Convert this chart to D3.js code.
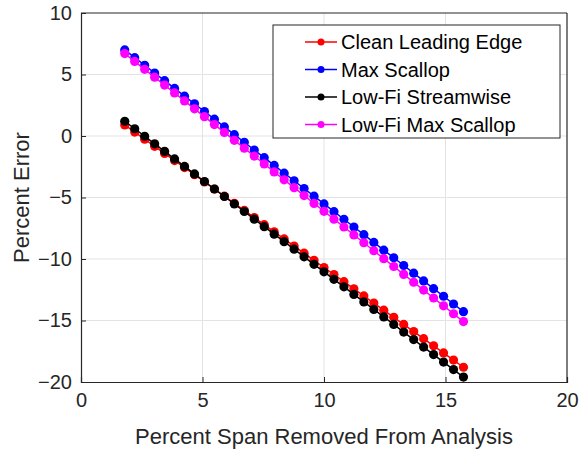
<!DOCTYPE html>
<html lang="en">
<head>
    <meta charset="UTF-8">
    <title>Percent Error vs Span Removed</title>
    <style>
        body { margin: 0; background: #fff; }
        svg { display: block; font-family: 'Liberation Sans', Arial, sans-serif; }
    </style>
</head>
<body>
    <svg id="chart" width="582" height="453"></svg>
    <script src="https://d3js.org/d3.v7.min.js"></script>
    <script>
        // Data
        const spanRemoved = [1.80, 2.21, 2.62, 3.03, 3.44, 3.85, 4.26, 4.67, 5.08, 5.49, 5.90, 6.31, 6.72, 7.13, 7.54, 7.95, 8.36, 8.77, 9.18, 9.59, 10.00, 10.41, 10.82, 11.23, 11.64, 12.05, 12.46, 12.87, 13.28, 13.69, 14.10, 14.51, 14.92, 15.33, 15.74];
        const cleanLeadingEdge = [0.90, 0.32, -0.26, -0.84, -1.42, -2.00, -2.57, -3.15, -3.73, -4.31, -4.89, -5.47, -6.05, -6.63, -7.21, -7.79, -8.37, -8.95, -9.53, -10.11, -10.69, -11.26, -11.84, -12.42, -13.00, -13.58, -14.16, -14.74, -15.32, -15.90, -16.48, -17.06, -17.64, -18.22, -18.80];
        const maxScallop = [7.00, 6.37, 5.75, 5.12, 4.50, 3.87, 3.24, 2.62, 1.99, 1.37, 0.74, 0.11, -0.51, -1.14, -1.76, -2.39, -3.02, -3.64, -4.27, -4.89, -5.52, -6.15, -6.77, -7.40, -8.02, -8.65, -9.28, -9.90, -10.53, -11.15, -11.78, -12.41, -13.03, -13.66, -14.28];
        const lowFiStreamwise = [1.20, 0.59, -0.02, -0.64, -1.25, -1.86, -2.47, -3.08, -3.70, -4.31, -4.92, -5.53, -6.14, -6.76, -7.37, -7.98, -8.59, -9.20, -9.82, -10.43, -11.04, -11.65, -12.26, -12.88, -13.49, -14.10, -14.71, -15.32, -15.94, -16.55, -17.16, -17.77, -18.38, -18.99, -19.60];
        const lowFiMaxScallop = [6.70, 6.06, 5.42, 4.78, 4.14, 3.50, 2.85, 2.21, 1.57, 0.93, 0.29, -0.35, -0.99, -1.63, -2.27, -2.92, -3.56, -4.20, -4.84, -5.48, -6.12, -6.76, -7.40, -8.04, -8.68, -9.33, -9.97, -10.61, -11.25, -11.89, -12.53, -13.17, -13.81, -14.45, -15.09];
        const seriesNames = ['Clean Leading Edge', 'Max Scallop', 'Low-Fi Streamwise', 'Low-Fi Max Scallop'];
        const seriesColors = ['#ff0000', '#0000ff', '#000000', '#ff00ff'];
        const xTicks = [0, 5, 10, 15, 20];
        const yTicks = [-20, -15, -10, -5, 0, 5, 10];

        const series = [cleanLeadingEdge, maxScallop, lowFiStreamwise, lowFiMaxScallop].map((vals, i) => ({
            name: seriesNames[i],
            color: seriesColors[i],
            points: vals.map((v, j) => ({ x: spanRemoved[j], y: v }))
        }));

        const margin = { top: 13, right: 15, bottom: 71, left: 81 };
        const width = 582 - margin.left - margin.right;
        const height = 453 - margin.top - margin.bottom;
        const axisColor = '#262626';

        const svg = d3.select('#chart');
        const g = svg.append('g')
            .attr('transform', `translate(${margin.left},${margin.top})`);

        const x = d3.scaleLinear().domain([0, 20]).range([0, width]);
        const y = d3.scaleLinear().domain([-20, 10]).range([height, 0]);

        // grid
        g.append('g')
            .selectAll('line')
            .data(xTicks.slice(1, -1))
            .enter().append('line')
            .attr('x1', d => x(d)).attr('x2', d => x(d))
            .attr('y1', 0).attr('y2', height)
            .attr('stroke', '#e3e3e3');
        g.append('g')
            .selectAll('line')
            .data(yTicks.slice(1, -1))
            .enter().append('line')
            .attr('y1', d => y(d)).attr('y2', d => y(d))
            .attr('x1', 0).attr('x2', width)
            .attr('stroke', '#e3e3e3');

        // axes
        const xAxis = g.append('g')
            .attr('transform', `translate(0,${height})`)
            .call(d3.axisBottom(x).tickValues(xTicks).tickSize(-5).tickPadding(11));
        const yAxis = g.append('g')
            .call(d3.axisLeft(y).tickValues(yTicks).tickSize(-5).tickPadding(9));
        [xAxis, yAxis].forEach(a => {
            a.select('.domain').attr('stroke', axisColor).attr('stroke-width', 1.2);
            a.selectAll('.tick line').attr('stroke', axisColor);
            a.selectAll('.tick text')
                .attr('fill', axisColor)
                .style('font-size', '20px')
                .style('font-family', "'Liberation Sans', Arial, sans-serif");
        });

        // box top and right
        g.append('line').attr('x1', 0).attr('x2', width).attr('y1', 0).attr('y2', 0)
            .attr('stroke', axisColor).attr('stroke-width', 1.2);
        g.append('line').attr('x1', width).attr('x2', width).attr('y1', 0).attr('y2', height)
            .attr('stroke', axisColor).attr('stroke-width', 1.2);

        // series
        const line = d3.line().x(d => x(d.x)).y(d => y(d.y));
        series.forEach(s => {
            const sg = g.append('g');
            sg.append('path')
                .datum(s.points)
                .attr('d', line)
                .attr('fill', 'none')
                .attr('stroke', s.color)
                .attr('stroke-width', 1.5);
            sg.selectAll('circle')
                .data(s.points)
                .enter().append('circle')
                .attr('cx', d => x(d.x))
                .attr('cy', d => y(d.y))
                .attr('r', 4.6)
                .attr('fill', s.color);
        });

        // axis labels
        svg.append('text')
            .attr('x', margin.left + width / 2)
            .attr('y', 444)
            .attr('text-anchor', 'middle')
            .attr('fill', axisColor)
            .style('font-size', '22px')
            .text('Percent Span Removed From Analysis');
        svg.append('text')
            .attr('transform', `translate(29,${margin.top + height / 2}) rotate(-90)`)
            .attr('text-anchor', 'middle')
            .attr('fill', axisColor)
            .style('font-size', '22px')
            .text('Percent Error');

        // legend
        const legend = svg.append('g').attr('transform', 'translate(273,25)');
        legend.append('rect')
            .attr('width', 287).attr('height', 113)
            .attr('fill', '#fff')
            .attr('stroke', axisColor)
            .attr('stroke-width', 1);
        series.forEach((s, i) => {
            const row = legend.append('g').attr('transform', `translate(0,${17 + i * 27.5})`);
            row.append('line')
                .attr('x1', 32).attr('x2', 64)
                .attr('stroke', s.color).attr('stroke-width', 1.5);
            row.append('circle').attr('cx', 48).attr('r', 3.5).attr('fill', s.color);
            row.append('text')
                .attr('x', 68)
                .attr('dy', '0.35em')
                .attr('fill', '#000')
                .style('font-size', '20px')
                .text(s.name);
        });
    </script>
</body>
</html>
